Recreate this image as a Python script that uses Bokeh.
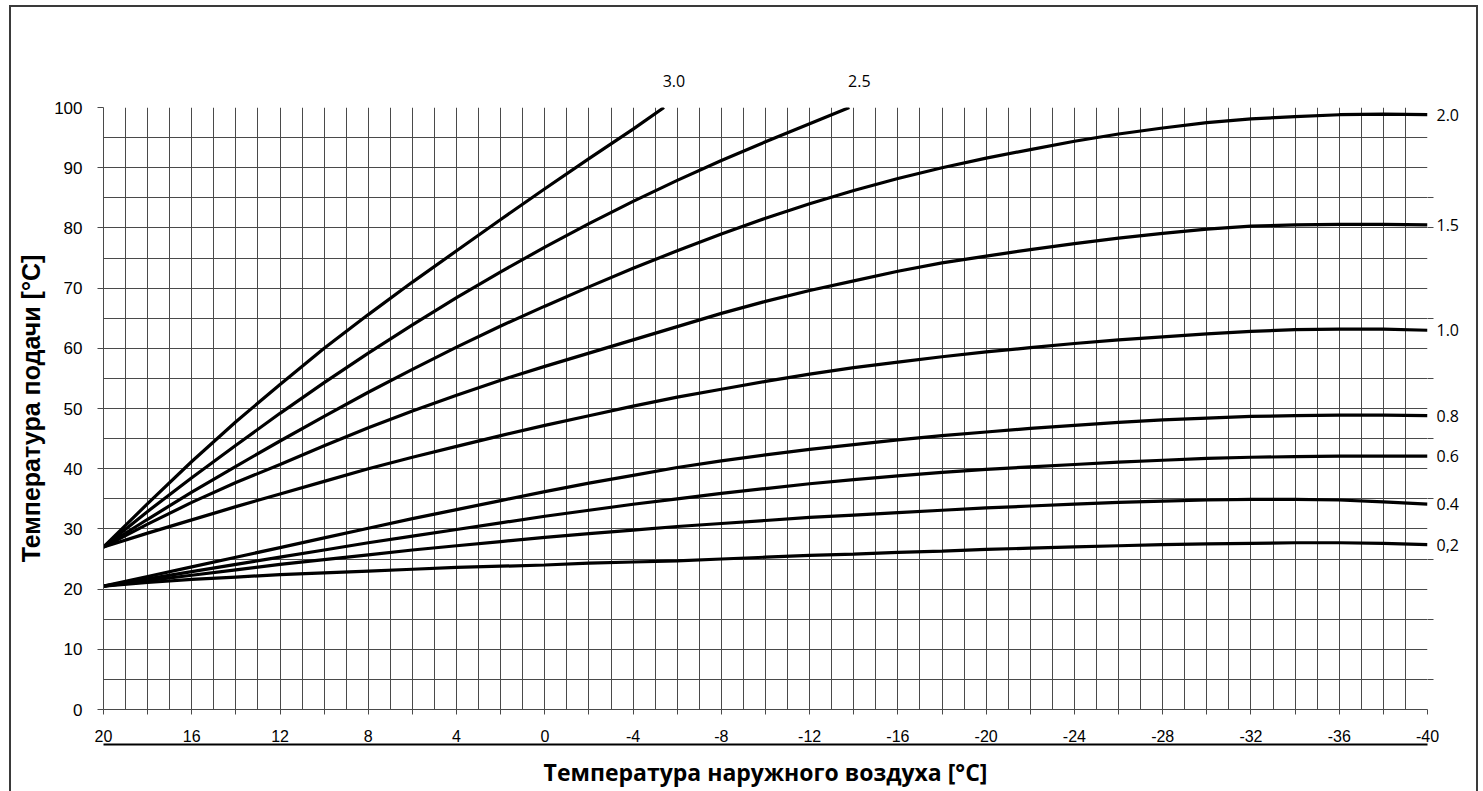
from bokeh.plotting import figure
from bokeh.models import Range1d, FixedTicker, LinearAxis
from bokeh.embed import file_html
from bokeh.resources import INLINE

# ---------------- data ----------------
t_full = [20, 18, 16, 14, 12, 10, 8, 6, 4, 2, 0, -2, -4, -6, -8, -10, -12, -14,
          -16, -18, -20, -22, -24, -26, -28, -30, -32, -34, -36, -38, -40]

t_30 = [20, 18, 16, 14, 12, 10, 8, 6, 4, 2, 0, -2, -4, -5.4]
v_30 = [27, 34.2, 41.2, 47.8, 54.0, 60.0, 65.6, 71.0, 76.2, 81.4, 86.5, 91.5, 96.4, 100]

t_25 = [20, 18, 16, 14, 12, 10, 8, 6, 4, 2, 0, -2, -4, -6, -8, -10, -12, -13.8]
v_25 = [27, 32.9, 38.5, 43.9, 49.2, 54.3, 59.2, 63.9, 68.4, 72.7, 76.8, 80.7, 84.4,
        87.9, 91.2, 94.3, 97.3, 100]

v_20 = [27, 31.6, 36.1, 40.4, 44.6, 48.7, 52.7, 56.5, 60.2, 63.7, 67.0, 70.2, 73.3,
        76.2, 79.0, 81.6, 84.0, 86.2, 88.2, 90.0, 91.6, 93.0, 94.4, 95.6, 96.6, 97.5,
        98.1, 98.5, 98.8, 98.9, 98.8]
v_15 = [27, 30.8, 34.4, 37.7, 40.7, 43.8, 46.8, 49.6, 52.2, 54.7, 57.0, 59.2, 61.4,
        63.6, 65.8, 67.8, 69.6, 71.2, 72.8, 74.2, 75.3, 76.4, 77.4, 78.3, 79.1, 79.8,
        80.3, 80.5, 80.6, 80.6, 80.5]
v_10 = [27, 29.3, 31.5, 33.7, 35.8, 37.9, 40.0, 41.9, 43.7, 45.5, 47.2, 48.8, 50.4,
        51.9, 53.2, 54.5, 55.7, 56.8, 57.7, 58.6, 59.4, 60.1, 60.8, 61.4, 61.9, 62.4,
        62.8, 63.1, 63.2, 63.2, 63.0]
v_08 = [20.5, 22.1, 23.7, 25.3, 26.9, 28.5, 30.1, 31.7, 33.2, 34.7, 36.2, 37.6, 38.9,
        40.2, 41.3, 42.3, 43.2, 44.0, 44.8, 45.5, 46.1, 46.7, 47.2, 47.7, 48.1, 48.4,
        48.7, 48.8, 48.9, 48.9, 48.8]
v_06 = [20.5, 21.7, 22.9, 24.1, 25.3, 26.5, 27.7, 28.8, 29.9, 31.0, 32.1, 33.1, 34.1,
        35.0, 35.9, 36.7, 37.5, 38.2, 38.8, 39.4, 39.9, 40.3, 40.7, 41.1, 41.4, 41.7,
        41.9, 42.0, 42.1, 42.1, 42.1]
v_04 = [20.5, 21.4, 22.3, 23.2, 24.1, 24.9, 25.7, 26.5, 27.2, 27.9, 28.6, 29.2, 29.8,
        30.4, 30.9, 31.4, 31.9, 32.3, 32.7, 33.1, 33.5, 33.8, 34.1, 34.4, 34.6, 34.8,
        34.9, 34.9, 34.8, 34.5, 34.1]
v_02 = [20.5, 21.1, 21.6, 22.0, 22.4, 22.7, 23.0, 23.3, 23.6, 23.8, 24.0, 24.3, 24.5,
        24.7, 25.0, 25.3, 25.6, 25.8, 26.1, 26.3, 26.6, 26.8, 27.0, 27.2, 27.4, 27.5,
        27.6, 27.7, 27.7, 27.6, 27.4]

top_names = ["3.0", "2.5"]
right_names = ["2.0", "1.5", "1.0", "0.8", "0.6", "0.4", "0,2"]

x_ticks = [20, 16, 12, 8, 4, 0, -4, -8, -12, -16, -20, -24, -28, -32, -36, -40]
x_minor = [18, 14, 10, 6, 2, -2, -6, -10, -14, -18, -22, -26, -30, -34, -38]
y_ticks = [0, 10, 20, 30, 40, 50, 60, 70, 80, 90, 100]
right_marks = [5, 15, 25, 35, 45, 55, 65, 80, 85]

x_title = "Температура наружного воздуха [°C]"
y_title = "Температура подачи [°C]"

# ---------------- layout ----------------
W, H = 1483, 791
BL, BR, BT, BB = 103, 56, 107, 82
LINE = "#3a3a3a"
GRID = "#4a4a4a"

frame_css = {
    "background-color": "white",
    "background-image": ", ".join([f"linear-gradient({LINE},{LINE})"] * 3),
    "background-size": "2px 790px, 1469px 2px, 2px 790px",
    "background-position": "9px 5px, 9px 5px, 1476px 5px",
    "background-repeat": "no-repeat",
}

p = figure(width=W, height=H, output_backend="svg", toolbar_location=None,
           x_range=Range1d(20, -40), y_range=Range1d(0, 100),
           min_border_left=BL, min_border_right=BR,
           min_border_top=BT, min_border_bottom=BB,
           background_fill_color="white", border_fill_color=None,
           styles=frame_css)
p.outline_line_color = None

# grid
p.xgrid.ticker = FixedTicker(ticks=list(range(-40, 21)))
p.ygrid.ticker = FixedTicker(ticks=list(range(0, 101, 5)))
p.xgrid.grid_line_color = GRID
p.ygrid.grid_line_color = GRID
p.xgrid.grid_line_width = 1
p.ygrid.grid_line_width = 1

# bottom axis (temperature ticks)
xa = p.xaxis[0]
xa.ticker = FixedTicker(ticks=x_ticks, minor_ticks=x_minor)
xa.major_label_overrides = {t: str(t) for t in x_ticks}
xa.axis_line_color = GRID
xa.major_tick_line_color = GRID
xa.minor_tick_line_color = GRID
xa.major_tick_in = 0
xa.major_tick_out = 5
xa.minor_tick_in = 0
xa.minor_tick_out = 5
xa.major_label_standoff = 15
xa.major_label_text_font = "Liberation Sans"
xa.major_label_text_font_size = "16px"
xa.major_label_text_color = "black"

# second bottom axis: underline + title
xb = LinearAxis(ticker=FixedTicker(ticks=[]), axis_label=x_title)
xb.axis_line_color = "black"
xb.axis_line_width = 2
xb.major_tick_out = 0
xb.major_tick_in = 0
xb.minor_tick_out = 0
xb.minor_tick_in = 0
xb.major_label_standoff = 0
xb.axis_label_standoff = 11
xb.axis_label_text_font = "Open Sans"
xb.axis_label_text_font_style = "bold"
xb.axis_label_text_font_size = "23px"
xb.axis_label_text_color = "black"
p.add_layout(xb, "below")

# left axis
ya = p.yaxis[0]
ya.ticker = FixedTicker(ticks=y_ticks, minor_ticks=[])
ya.major_label_overrides = {t: str(t) for t in y_ticks}
ya.axis_line_color = GRID
ya.major_tick_line_color = GRID
ya.major_tick_in = 0
ya.major_tick_out = 6
ya.minor_tick_line_color = None
ya.major_label_standoff = 15
ya.major_label_text_font = "Liberation Sans"
ya.major_label_text_font_size = "17px"
ya.major_label_text_color = "black"
ya.axis_label = y_title
ya.axis_label_standoff = 6
ya.axis_label_text_font = "Liberation Sans"
ya.axis_label_text_font_style = "bold"
ya.axis_label_text_font_size = "25px"
ya.axis_label_text_color = "black"

# curves
series = [(t_30, v_30), (t_25, v_25), (t_full, v_20), (t_full, v_15), (t_full, v_10),
          (t_full, v_08), (t_full, v_06), (t_full, v_04), (t_full, v_02)]
for tt, vv in series:
    p.line(tt, vv, line_color="black", line_width=3.2)

# curve names above the plot (ends of the curves that leave through the top)
top_pos = [round(tt[-1] - 0.45, 2) for tt, vv in series[:2]]
ta = LinearAxis(ticker=FixedTicker(ticks=top_pos, minor_ticks=[]))
ta.major_label_overrides = {pos: name for pos, name in zip(top_pos, top_names)}
ta.axis_line_color = None
ta.major_tick_line_color = None
ta.minor_tick_line_color = None
ta.major_tick_out = 0
ta.major_tick_in = 0
ta.minor_tick_out = 0
ta.minor_tick_in = 0
ta.major_label_standoff = 21
ta.major_label_text_font = "Open Sans"
ta.major_label_text_font_size = "16px"
ta.major_label_text_color = "black"
p.add_layout(ta, "above")

# curve names on the right (at the curve ends)
right_pos = [vv[-1] for tt, vv in series[2:]]
ra = LinearAxis(ticker=FixedTicker(ticks=right_pos, minor_ticks=right_marks))
ra.major_label_overrides = {pos: name for pos, name in zip(right_pos, right_names)}
ra.axis_line_color = None
ra.major_tick_line_color = None
ra.major_tick_out = 0
ra.major_tick_in = 0
ra.minor_tick_line_color = GRID
ra.minor_tick_out = 6
ra.minor_tick_in = 0
ra.major_label_standoff = 3
ra.major_label_text_font = "Open Sans"
ra.major_label_text_font_size = "16px"
ra.major_label_text_color = "black"
p.add_layout(ra, "right")

open("out.html", "w").write(file_html(p, INLINE))
